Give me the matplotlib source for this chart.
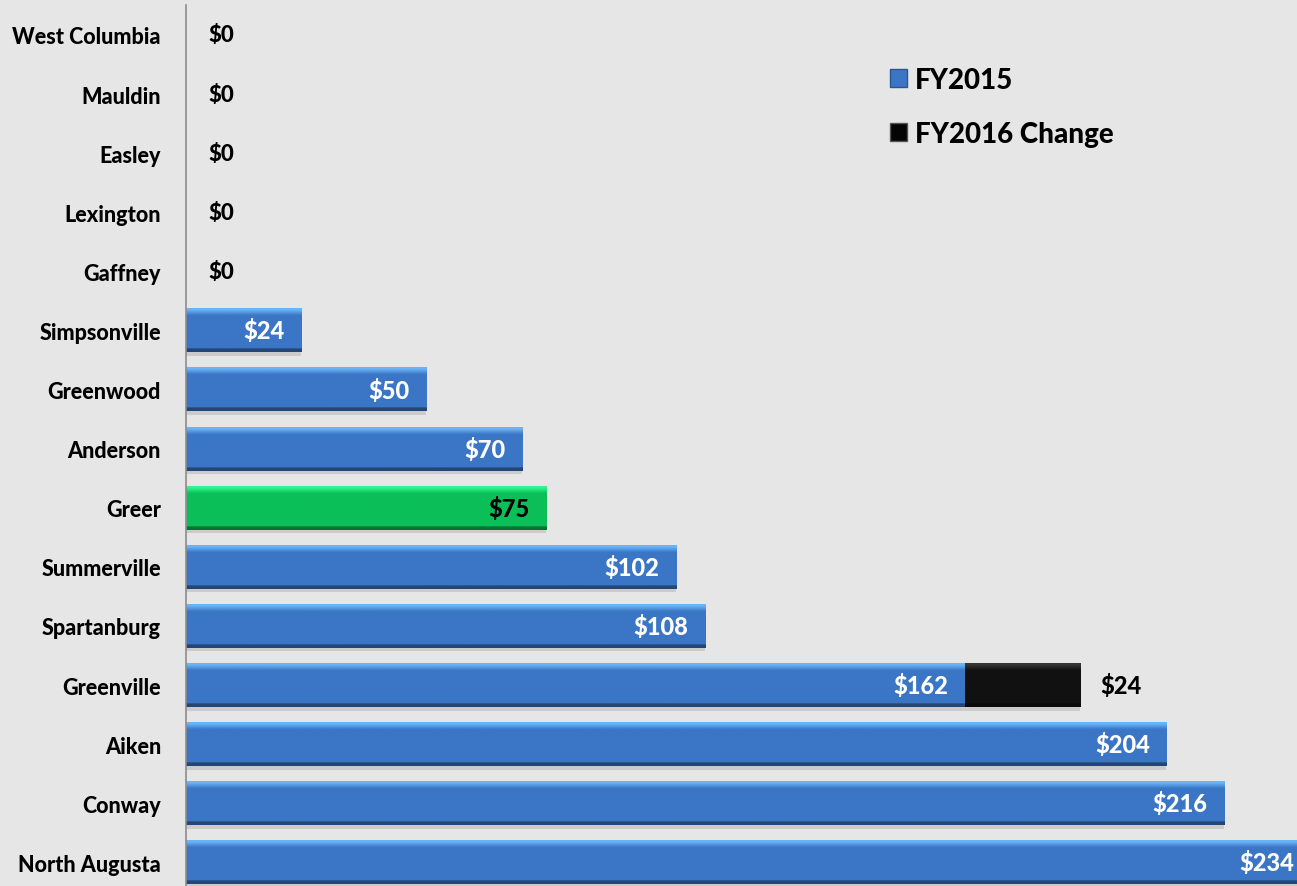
import matplotlib
matplotlib.use("Agg")
import matplotlib.pyplot as plt
import numpy as np
from matplotlib.patches import Patch
from matplotlib.colors import to_rgb

cities = ["West Columbia", "Mauldin", "Easley", "Lexington", "Gaffney",
          "Simpsonville", "Greenwood", "Anderson", "Greer", "Summerville",
          "Spartanburg", "Greenville", "Aiken", "Conway", "North Augusta"]
fy2015 = [0, 0, 0, 0, 0, 24, 50, 70, 75, 102, 108, 162, 204, 216, 234]
fy2016_change = [0, 0, 0, 0, 0, 0, 0, 0, 0, 0, 0, 24, 0, 0, 0]
highlight_city = "Greer"

BLUE = "#3b76c6"
GREEN = "#0bbf58"
BLACK = "#050505"
BG = "#e6e6e6"
FONT = ["Lato", "DejaVu Sans"]

W, H = 1297, 887
fig = plt.figure(figsize=(W / 100, H / 100), dpi=100, facecolor=BG)
ax = fig.add_axes([186 / W, 0, 1 - 186 / W, 1])
ax.set_facecolor(BG)

y = np.arange(len(cities))
colors = [GREEN if c == highlight_city else BLUE for c in cities]
bh = 0.74
bars1 = ax.barh(y, fy2015, height=bh, color=colors, linewidth=0, zorder=2)
bars2 = ax.barh(y, fy2016_change, left=fy2015, height=bh, color=BLACK,
                linewidth=0, zorder=2)


def bevel(patch, base):
    w = patch.get_width()
    if w <= 0:
        return
    r, g, b = np.array(to_rgb(base))
    light = np.minimum(1, np.array([r, g, b]) * 1.3 + 0.15)
    dark = np.array([r, g, b]) * 0.6
    basec = np.array([r, g, b])
    n = 60
    rows = []
    for i in range(n):
        f = i / (n - 1)
        if f < 0.04:
            c = light * 0.85 + basec * 0.15
        elif f < 0.16:
            t = (f - 0.04) / 0.12
            c = light * (1 - t) * 0.8 + basec * (1 - (1 - t) * 0.8)
        elif f > 0.93:
            c = dark
        else:
            c = basec
        rows.append(c)
    img = np.array(rows)[:, None, :]
    x0, y0, h = patch.get_x(), patch.get_y(), patch.get_height()
    ax.imshow(img, extent=(x0, x0 + w, y0 + h, y0), origin="upper",
              aspect="auto", zorder=2.5, interpolation="bilinear")
    ax.barh(y0 + h / 2 + 0.06, w, left=x0, height=h, color="#9a9a9a",
            alpha=0.35, linewidth=0, zorder=1.8)


for p, c in zip(bars1, colors):
    bevel(p, c)
for p in bars2:
    bevel(p, "#111111")

ax.set_xlim(0, (W - 186) / 4.806)
ax.set_ylim((H - 36) / 59.1, -36 / 59.1)
ax.set_aspect("auto")

for s in ["top", "right", "bottom"]:
    ax.spines[s].set_visible(False)
ax.spines["left"].set_color("#8c8c8c")
ax.spines["left"].set_linewidth(1.2)
ax.spines["left"].set_bounds(-0.5, (H - 36) / 59.1)
ax.set_xticks([])
ax.set_yticks(y)
ax.set_yticklabels(cities, fontsize=15.5, fontweight="black", family=FONT)
ax.tick_params(axis="y", length=0, pad=18)

for i, (v, d, c) in enumerate(zip(fy2015, fy2016_change, cities)):
    if v == 0:
        ax.annotate(f"${v}", (0, i), xytext=(16, 0), textcoords="offset points",
                    ha="left", va="center", fontsize=16, fontweight="black",
                    family=FONT, color="black", zorder=5)
    else:
        col = "black" if c == highlight_city else "white"
        ax.annotate(f"${v}", (v, i), xytext=(-12, 0), textcoords="offset points",
                    ha="right", va="center", fontsize=17, fontweight="black",
                    family=FONT, color=col, zorder=5, annotation_clip=False)
    if d > 0:
        ax.annotate(f"${d}", (v + d, i), xytext=(15, 0), textcoords="offset points",
                    ha="left", va="center", fontsize=17, fontweight="black",
                    family=FONT, color="black", zorder=5)

handles = [Patch(facecolor=BLUE, edgecolor="#2a5590"),
           Patch(facecolor=BLACK, edgecolor="#555555")]
leg = fig.legend(handles, ["FY2015", "FY2016 Change"], loc="upper left",
                 bbox_to_anchor=(865 / W, 1 - 43 / H), frameon=False,
                 prop={"family": FONT, "weight": "black", "size": 20},
                 handlelength=0.6, handleheight=0.6, handletextpad=0.3,
                 labelspacing=1.0)

fig.savefig("out.png", dpi=100, facecolor=BG)
